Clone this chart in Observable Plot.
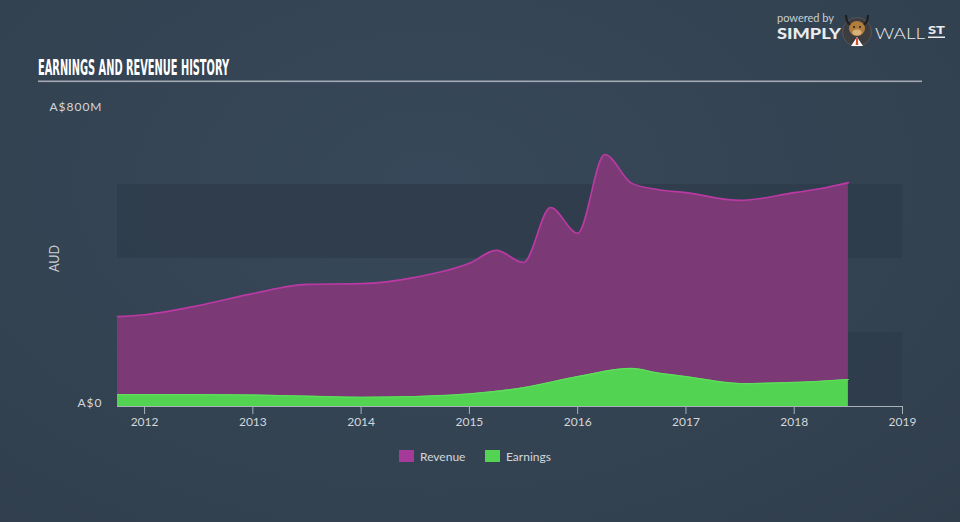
<!DOCTYPE html>
<html>
<head>
<meta charset="utf-8">
<script src="https://cdn.jsdelivr.net/npm/d3@7"></script>
<script src="https://cdn.jsdelivr.net/npm/@observablehq/plot@0.6"></script>
<style>
  html, body { margin: 0; padding: 0; }
  body { width: 960px; height: 522px; overflow: hidden; }
  #wrap {
    position: relative; width: 960px; height: 522px;
    background: radial-gradient(ellipse at 45% 35%, #37485a 0%, #344352 55%, #303e4c 100%);
    font-family: Lato, "Open Sans", sans-serif;
  }
  #chart { position: absolute; left: 0; top: 0; }
  #title { position: absolute; left: 0; top: 0; }
  #logo { position: absolute; left: 0; top: 0; }
  #legend { position: absolute; left: 0; top: 0; }
  .yax text { letter-spacing: 1px; }
</style>
</head>
<body>
<div id="wrap">
  <div id="chart"></div>
  <svg id="title" width="960" height="90">
    <text x="38" y="75" textLength="191" lengthAdjust="spacingAndGlyphs"
      font-family="'Liberation Sans Narrow','DejaVu Sans Condensed',sans-serif" font-weight="bold"
      font-size="21" fill="#ffffff">EARNINGS AND REVENUE HISTORY</text>
    <rect x="38" y="80.5" width="884" height="1.6" fill="#a3aab3"></rect>
  </svg>
  <svg id="logo" width="960" height="60">
    <text x="777" y="22" font-family="Lato, sans-serif" font-size="11.5" fill="#c9ced3" textLength="57" lengthAdjust="spacingAndGlyphs">powered by</text>
    <text x="777" y="38.5" font-family="Lato, sans-serif" font-weight="900" font-size="15.5" fill="#e9ebed" textLength="64" lengthAdjust="spacingAndGlyphs">SIMPLY</text>
    <circle cx="857" cy="32" r="14.5" fill="#3d3d40" stroke="#55565a" stroke-width="1"></circle>
    <path d="M846 15 Q846 23 851 25 M868 15 Q868 23 863 25" stroke="#1f1f1f" stroke-width="2.2" fill="none"></path>
    <ellipse cx="857" cy="28.5" rx="8" ry="7.5" fill="#b07d3c"></ellipse>
    <ellipse cx="857" cy="32.5" rx="4.5" ry="3" fill="#d9b27a"></ellipse>
    <circle cx="854" cy="27" r="1" fill="#222"></circle>
    <circle cx="860" cy="27" r="1" fill="#222"></circle>
    <path d="M851 46 L857 37 L863 46 Z" fill="#ffffff"></path>
    <path d="M856.2 38 L857.8 38 L858.3 45 L855.7 45 Z" fill="#d84a2a"></path>
    <text x="875" y="38.5" font-family="Lato, sans-serif" font-weight="300" font-size="15.5" fill="#e9ebed" textLength="50" lengthAdjust="spacingAndGlyphs">WALL</text>
    <text x="928" y="34" font-family="Lato, sans-serif" font-weight="900" font-size="11" fill="#e9ebed" textLength="17" lengthAdjust="spacingAndGlyphs">ST</text>
    <rect x="928" y="36.5" width="17" height="1.5" fill="#e9ebed"></rect>
  </svg>
  <svg id="legend" width="960" height="522"></svg>
</div>
<script>
// ---- data ----
const revenueYears  = [2011.75, 2012.0, 2012.5, 2013.0, 2013.5, 2014.0, 2014.5, 2015.0, 2015.25, 2015.5, 2015.75, 2016.0, 2016.25, 2016.5, 2016.75, 2017.0, 2017.5, 2018.0, 2018.25, 2018.5];
const revenueValues = [243,     248,    273,    305,    330,    332,    349,    387,    422,     389,    538,     468,    681,     603,    586,     578,    557,    578,    589,     605];
const earningsYears  = [2011.75, 2012.5, 2013.0, 2013.5, 2014.0, 2014.5, 2015.0, 2015.5, 2016.0, 2016.5, 2016.75, 2017.0, 2017.5, 2018.0, 2018.5];
const earningsValues = [32,      32,     31,     28,     25,     27,     34,     51,     81,     103,    90,      81,     62,     65,     73];
const xTicks = [2012, 2013, 2014, 2015, 2016, 2017, 2018, 2019];
const yTicks = [0, 800];
const yTickLabels = ["A$0", "A$800M"];
const bandRanges = [[0, 200], [400, 600]];
const seriesNames = ["Revenue", "Earnings"];
const seriesColors = ["#a63a98", "#52d452"];

// ---- build tables ----
const revenue = revenueYears.map((x, i) => ({x, y: revenueValues[i]}));
const earnings = earningsYears.map((x, i) => ({x, y: earningsValues[i]}));
const bands = bandRanges.map(([a, b]) => ({y1: a, y2: b}));
const xDomain = [2011.75, 2019];

const chart = Plot.plot({
  width: 960,
  height: 522,
  marginLeft: 117,
  marginRight: 58,
  marginTop: 110,
  marginBottom: 116,
  style: {background: "transparent", color: "#d3d7db", fontFamily: "Lato, 'Open Sans', sans-serif", fontSize: "12px"},
  x: {domain: xDomain},
  y: {domain: [0, 800]},
  marks: [
    Plot.rect(bands, {x1: xDomain[0], x2: xDomain[1], y1: "y1", y2: "y2", fill: "#2e3c4b", fillOpacity: 0.85}),
    Plot.areaY(revenue, {x: "x", y: "y", fill: "#7b3a76", curve: "monotone-x"}),
    Plot.lineY(revenue, {x: "x", y: "y", stroke: "#b83aa2", strokeWidth: 1.6, curve: "monotone-x"}),
    Plot.areaY(earnings, {x: "x", y: "y", fill: "#52d452", curve: "monotone-x"}),
    Plot.lineY(earnings, {x: "x", y: "y", stroke: "#5fe05c", strokeWidth: 1.2, curve: "monotone-x"}),
    Plot.ruleY([0], {stroke: "#a9b0b8", strokeWidth: 1.2}),
    Plot.axisX({ticks: xTicks, tickFormat: d => String(d), tickSize: 8, tickPadding: 3, stroke: "#a9b0b8", fill: "#d3d7db", label: null, fontSize: 12}),
    Plot.axisY({ticks: yTicks, tickFormat: d => yTickLabels[yTicks.indexOf(d)], tickSize: 0, tickPadding: 15, dy: -3, fill: "#d3d7db", label: null, fontSize: 12, className: "yax"}),
    Plot.text(["AUD"], {frameAnchor: "left", textAnchor: "middle", dx: -63, rotate: -90, fill: "#c9ced3", fontSize: 12.5})
  ]
});
document.getElementById("chart").appendChild(chart);

// ---- legend ----
const legend = d3.select("#legend");
const lx = [399, 485];
seriesNames.forEach((name, i) => {
  legend.append("rect").attr("x", lx[i]).attr("y", 450).attr("width", 15).attr("height", 12).attr("fill", seriesColors[i]);
  legend.append("text").attr("x", lx[i] + 21).attr("y", 460.5)
    .attr("font-family", "Lato, 'Open Sans', sans-serif").attr("font-size", 12)
    .attr("fill", "#d3d7db").text(name);
});
</script>
</body>
</html>
